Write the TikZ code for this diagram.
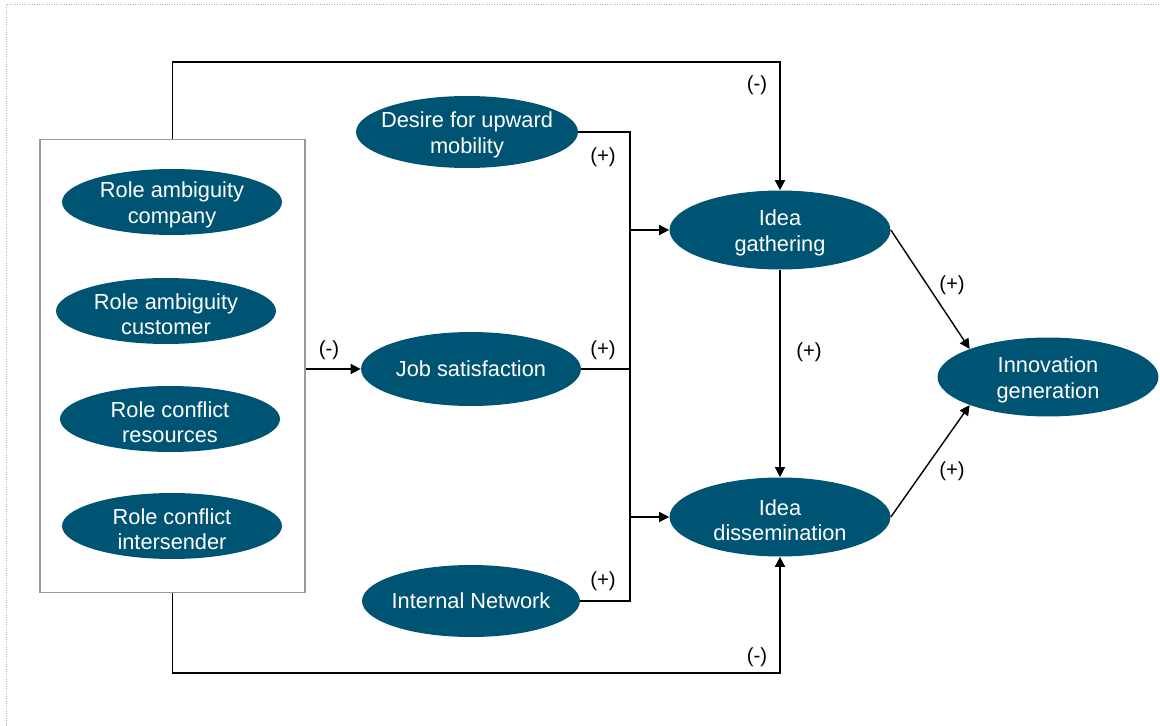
\documentclass[tikz,border=0pt]{standalone}
\usepackage{fontspec}
\setmainfont{Liberation Sans}
\usetikzlibrary{shapes, arrows.meta}
\definecolor{petrol}{RGB}{0,84,115}

\begin{document}
\begin{tikzpicture}[x=0.02cm, y=-0.02cm,
	blob/.style={ellipse, fill=petrol, inner sep=0pt, minimum width=4.4cm, minimum height=1.32cm},
	btxt/.style={text=white, align=center, font=\fontsize{12.4}{14.4}\selectfont},
	btwo/.style={btxt, yshift=-1.7pt},
	sign/.style={font=\fontsize{11.6}{13}\selectfont, inner sep=0pt},
	wire/.style={line width=0.8pt},
	link/.style={wire, -{Triangle[length=2mm, width=2mm]}}
	]
	\useasboundingbox (0,0) rectangle (1160,726);
	\draw[gray!60, densely dotted] (6,726) -- (6,4) -- (1160,4);

	% group of role stressors
	\node[draw=gray!80, line width=0.6pt, minimum width=5.3cm, minimum height=9.08cm] (grp) at (172.5,366) {};
	\node[blob] (rac) at (172,202) {};
	\node[btwo] (rac-t) at (rac) {Role ambiguity\\company};
	\node[blob] (racu) at (166,311) {};
	\node[btwo] (racu-t) at (racu) {Role ambiguity\\customer};
	\node[blob] (rcr) at (170,419) {};
	\node[btwo] (rcr-t) at (rcr) {Role conflict\\resources};
	\node[blob] (rci) at (172,526) {};
	\node[btwo] (rci-t) at (rci) {Role conflict\\intersender};

	% middle column
	\node[blob, minimum width=4.44cm, minimum height=1.44cm] (desire) at (467,132) {};
	\node[btwo] (desire-t) at (desire) {Desire for upward\\mobility};
	\node[blob, minimum height=1.48cm] (job) at (471,369) {};
	\node[btxt] (job-t) at (job) {Job satisfaction};
	\node[blob, minimum width=4.36cm, minimum height=1.44cm] (netw) at (471,601) {};
	\node[btxt] (netw-t) at (netw) {Internal Network};

	% ideas
	\node[blob, minimum width=4.42cm, minimum height=1.58cm] (gath) at (780,230) {};
	\node[btwo] (gath-t) at (gath) {Idea\\gathering};
	\node[blob, minimum width=4.42cm, minimum height=1.58cm] (diss) at (780,517) {};
	\node[btwo] (diss-t) at (diss) {Idea\\dissemination};
	\node[blob, minimum width=4.42cm, minimum height=1.58cm] (innov) at (1048,377) {};
	\node[btwo] (innov-t) at (innov) {Innovation\\generation};

	\coordinate (topc) at (173,62);
	\coordinate (botc) at (173,673);
	\coordinate (bus) at (630,0);

	\draw[link, line width=1pt] (grp.north) -- (grp.north |- topc) -| (gath);
	\draw[link, line width=1pt] (grp.south) -- (grp.south |- botc) -| (diss);
	\draw[link] (grp.east |- job) -- (job.west);

	\draw[wire] (desire.east) -- (desire.east -| bus) -- (netw.east -| bus) -- (netw.east);
	\draw[wire] (job.east) -- (job.east -| bus);
	\draw[link] (gath.west -| bus) -- (gath.west);
	\draw[link] (diss.west -| bus) -- (diss.west);

	\draw[link] (gath) -- (diss);
	\draw[link] (gath.east) -- (innov.north west);
	\draw[link] (diss.east) -- (innov.south west);

	% signs
	\node[sign] (s1) at (757,85) {(-)};
	\node[sign] (s2) at (757,657) {(-)};
	\node[sign] (s3) at (329,350) {(-)};
	\node[sign] (s4) at (603,157) {(+)};
	\node[sign] (s5) at (603,350) {(+)};
	\node[sign] (s6) at (603,581) {(+)};
	\node[sign] (s7) at (809,352) {(+)};
	\node[sign] (s8) at (952,285) {(+)};
	\node[sign] (s9) at (952,471) {(+)};
\end{tikzpicture}
\end{document}
